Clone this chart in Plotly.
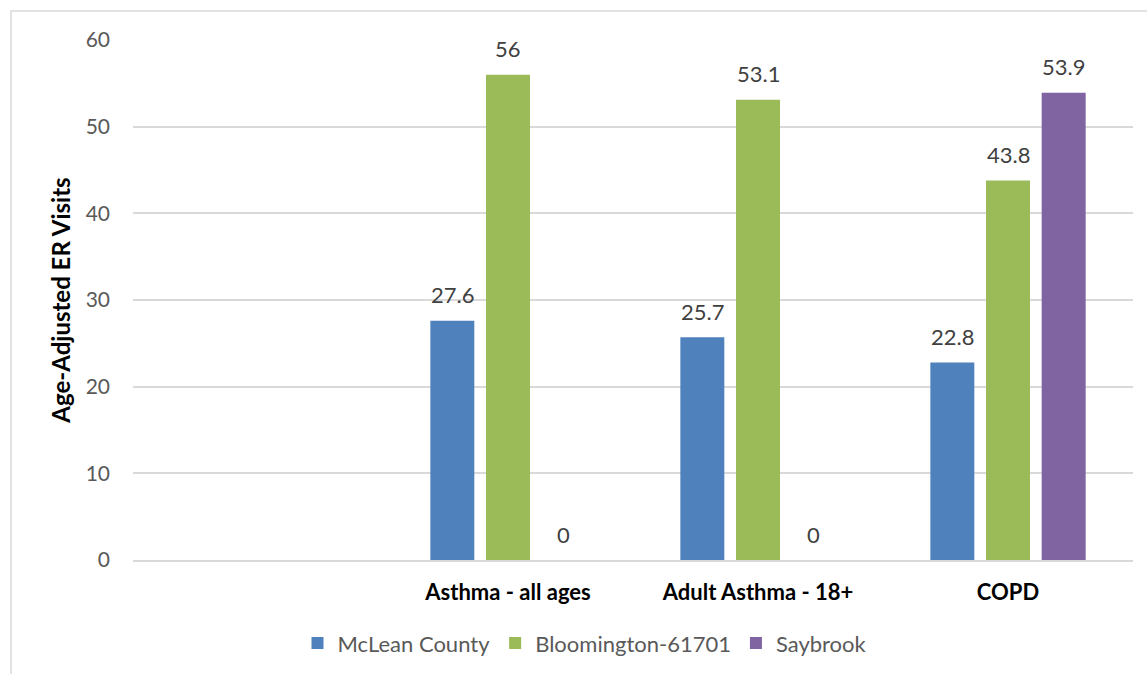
import plotly.graph_objects as go

categories = [" ", "Asthma - all ages", "Adult Asthma - 18+", "COPD"]
series_names = ["McLean County", "Bloomington-61701", "Saybrook"]
mclean = [None, 27.6, 25.7, 22.8]
bloomington = [None, 56, 53.1, 43.8]
saybrook = [None, 0, 0, 53.9]
y_ticks = [0, 10, 20, 30, 40, 50, 60]

colors = ["#4F81BD", "#9BBB59", "#8064A2"]
series_values = [mclean, bloomington, saybrook]

W, H = 1147, 674
L, R, T, B = 133, 14, 40, 114
plot_w = W - L - R
plot_h = H - T - B
bargap = 0.332
bargroupgap = 0.21
FONT = "Lato"

fig = go.Figure()
for name, vals, col in zip(series_names, series_values, colors):
    fig.add_trace(go.Bar(
        x=categories, y=vals, name=name, marker=dict(color=col, line=dict(width=0)),
    ))

# data labels
cat_px = plot_w / len(categories)
slot_px = cat_px * (1 - bargap) / len(series_names)
for i, vals in enumerate(series_values):
    for c, v in zip(categories, vals):
        if v is None:
            continue
        fig.add_annotation(
            x=c, y=v, text=f"{v:g}", showarrow=False,
            xshift=(i - 1) * slot_px, yshift=26, yanchor="middle",
            font=dict(family=FONT, size=22, color="#404040"),
        )

fig.update_layout(
    width=W, height=H,
    margin=dict(l=L, r=R, t=T, b=B, autoexpand=False),
    paper_bgcolor="white", plot_bgcolor="white",
    barmode="group", bargap=bargap, bargroupgap=bargroupgap,
    font=dict(family=FONT, size=21, color="#595959"),
    showlegend=True,
    legend=dict(
        orientation="h", x=0.452, xanchor="center", y=-0.16, yanchor="middle",
        font=dict(family=FONT, size=22, color="#595959"),
        itemsizing="constant", traceorder="normal",
    ),
    xaxis=dict(
        type="category", categoryorder="array", categoryarray=categories,
        range=[-0.5, len(categories) - 0.5],
        showline=True, linecolor="#D9D9D9", linewidth=2,
        showgrid=False, ticks="", ticklabelstandoff=12,
        tickfont=dict(family=FONT, size=22, color="black", weight="bold"),
    ),
    yaxis=dict(
        range=[0, 60], tickvals=y_ticks, showgrid=True, gridcolor="#D9D9D9", gridwidth=1.5,
        zeroline=False, showline=False, ticks="", ticklabelstandoff=22,
        tickfont=dict(family=FONT, size=21, color="#595959"),
        title=dict(text="Age-Adjusted ER Visits", standoff=8,
                   font=dict(family=FONT, size=24, color="black", weight="bold")),
    ),
)

# chart border
fig.add_shape(type="rect", xref="paper", yref="paper",
              x0=(11 - L) / plot_w, x1=(W + 10 - L) / plot_w,
              y0=-(H + 10 - (H - B)) / plot_h, y1=1 + (T - 11) / plot_h,
              line=dict(color="#D9D9D9", width=1.5), fillcolor="rgba(0,0,0,0)", layer="below")

fig.write_html("out.html", config={"displayModeBar": False},
               post_script="document.body.style.margin='0';document.body.style.overflow='hidden';")
